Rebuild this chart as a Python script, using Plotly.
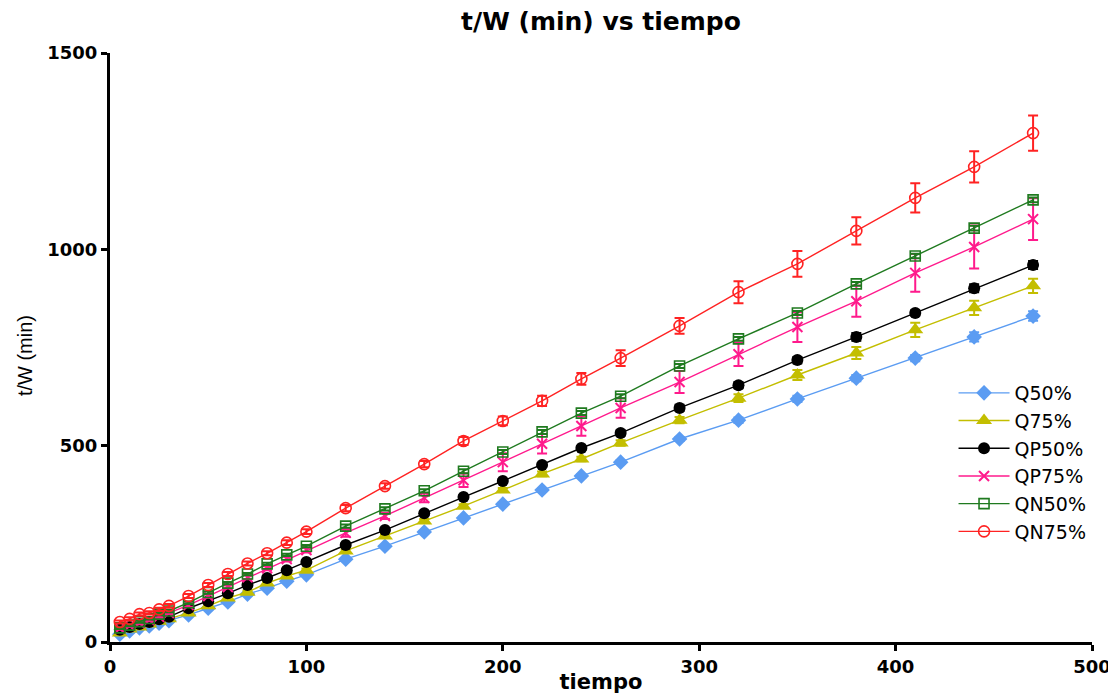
import plotly.graph_objects as go

tiempo = [5, 10, 15, 20, 25, 30, 40, 50, 60, 70, 80, 90, 100, 120, 140, 160, 180,
          200, 220, 240, 260, 290, 320, 350, 380, 410, 440, 470]

q50 = [20, 28, 36, 41, 48, 54, 69, 86, 102, 122, 137, 155, 171, 211, 244, 280, 316,
       351, 387, 423, 458, 517, 565, 619, 672, 723, 777, 830]
q50_err = [3] * 13 + [3, 3, 3, 4, 4, 4, 4, 5, 5, 7, 8, 8, 8, 12, 12]

q75 = [23, 33, 38, 46, 53, 59, 74, 92, 112, 127, 150, 168, 183, 232, 270, 308, 346,
       387, 428, 466, 507, 565, 621, 680, 736, 795, 851, 907]
q75_err = [4] * 13 + [5, 5, 5, 5, 5, 6, 6, 7, 8, 10, 13, 15, 18, 18, 18]

qp50 = [31, 38, 46, 51, 58, 64, 86, 104, 124, 145, 163, 183, 204, 247, 285, 328, 369,
        410, 451, 494, 532, 596, 654, 718, 777, 838, 901, 960]
qp50_err = [3] * 13 + [4, 4, 4, 4, 5, 5, 5, 7, 8, 8, 8, 10, 7, 10, 10]

qp75 = [34, 41, 48, 56, 64, 74, 94, 117, 140, 165, 188, 211, 234, 278, 321, 367, 412,
        458, 505, 550, 596, 662, 733, 802, 868, 940, 1006, 1077]
qp75_err = [3, 3, 3, 3, 3, 3, 4, 4, 4, 5, 5, 6, 6, 10, 8, 11, 17, 23, 25, 25, 25,
            28, 30, 38, 40, 48, 55, 53]

qn50 = [36, 43, 52, 60, 71, 79, 100, 126, 150, 173, 199, 222, 244, 295, 339, 385, 435,
        484, 535, 583, 626, 703, 772, 838, 912, 983, 1054, 1126]
qn50_err = [3] * 13 + [4, 4, 4, 5, 5, 5, 5, 5, 5, 5, 5, 5, 6, 6, 6]

qn75 = [51, 59, 71, 74, 83, 92, 117, 145, 173, 200, 226, 253, 281, 341, 397, 453, 512,
        563, 614, 670, 723, 805, 891, 963, 1047, 1131, 1210, 1296]
qn75_err = [4, 4, 4, 4, 4, 5, 5, 5, 5, 5, 5, 6, 6, 8, 7, 8, 10, 11, 13, 15, 20, 20,
            28, 33, 35, 37, 40, 45]

series = [
    ("Q50%", q50, q50_err, "#5B9CF2", "diamond", 12, 0),
    ("Q75%", q75, q75_err, "#C3BE00", "triangle-up", 14, 0),
    ("QP50%", qp50, qp50_err, "#000000", "circle", 12, 0),
    ("QP75%", qp75, qp75_err, "#FF1A8C", "x-thin-open", 10, 2),
    ("QN50%", qn50, qn50_err, "#1F7A1F", "square-open", 10, 1.6),
    ("QN75%", qn75, qn75_err, "#FF2222", "circle-open", 11, 1.6),
]

fig = go.Figure()
for name, ys, err, color, sym, size, mlw in series:
    fig.add_trace(go.Scatter(
        x=tiempo, y=ys, name=name, mode="lines+markers",
        line=dict(color=color, width=1.4),
        marker=dict(symbol=sym, size=size, color=color,
                    line=dict(color=color, width=mlw)),
        error_y=dict(type="data", array=err, visible=True, color=color,
                     thickness=2, width=5),
        cliponaxis=False,
    ))

fig.update_layout(
    width=1108, height=686,
    paper_bgcolor="white", plot_bgcolor="white",
    margin=dict(l=102, r=24, t=45, b=52, autoexpand=False),
    title=dict(text="<b>t/W (min) vs tiempo</b>", x=0.5, xref="paper",
               y=0.981, yanchor="middle",
               font=dict(family="DejaVu Sans", size=25, color="black")),
    showlegend=True,
    legend=dict(x=0.859, y=0.455, xanchor="left", yanchor="top",
                bgcolor="rgba(0,0,0,0)",
                font=dict(family="DejaVu Sans", size=19, color="black"),
                itemwidth=51, tracegroupgap=0),
    annotations=[dict(text="t/W (min)", xref="paper", yref="paper",
                      x=-0.0866, y=0.487, textangle=-90, showarrow=False,
                      xanchor="center", yanchor="middle",
                      font=dict(family="Liberation Sans", size=20, color="black"))],
)
fig.update_xaxes(
    range=[0, 500], tickvals=[0, 100, 200, 300, 400, 500],
    showline=True, linecolor="black", linewidth=3,
    ticks="outside", ticklen=6, tickwidth=3, tickcolor="black",
    showgrid=False, zeroline=False, automargin=False,
    tickfont=dict(family="DejaVu Sans", size=18, color="black", weight="bold"),
    title=dict(text="<b>tiempo</b>", standoff=6,
               font=dict(family="DejaVu Sans", size=21, color="black")),
)
fig.update_yaxes(
    range=[0, 1500], tickvals=[0, 500, 1000, 1500],
    showline=True, linecolor="black", linewidth=3,
    ticks="outside", ticklen=6, tickwidth=3, tickcolor="black",
    showgrid=False, zeroline=False, automargin=False,
    tickfont=dict(family="DejaVu Sans", size=18, color="black", weight="bold"),
)

fig.write_html("out.html")
